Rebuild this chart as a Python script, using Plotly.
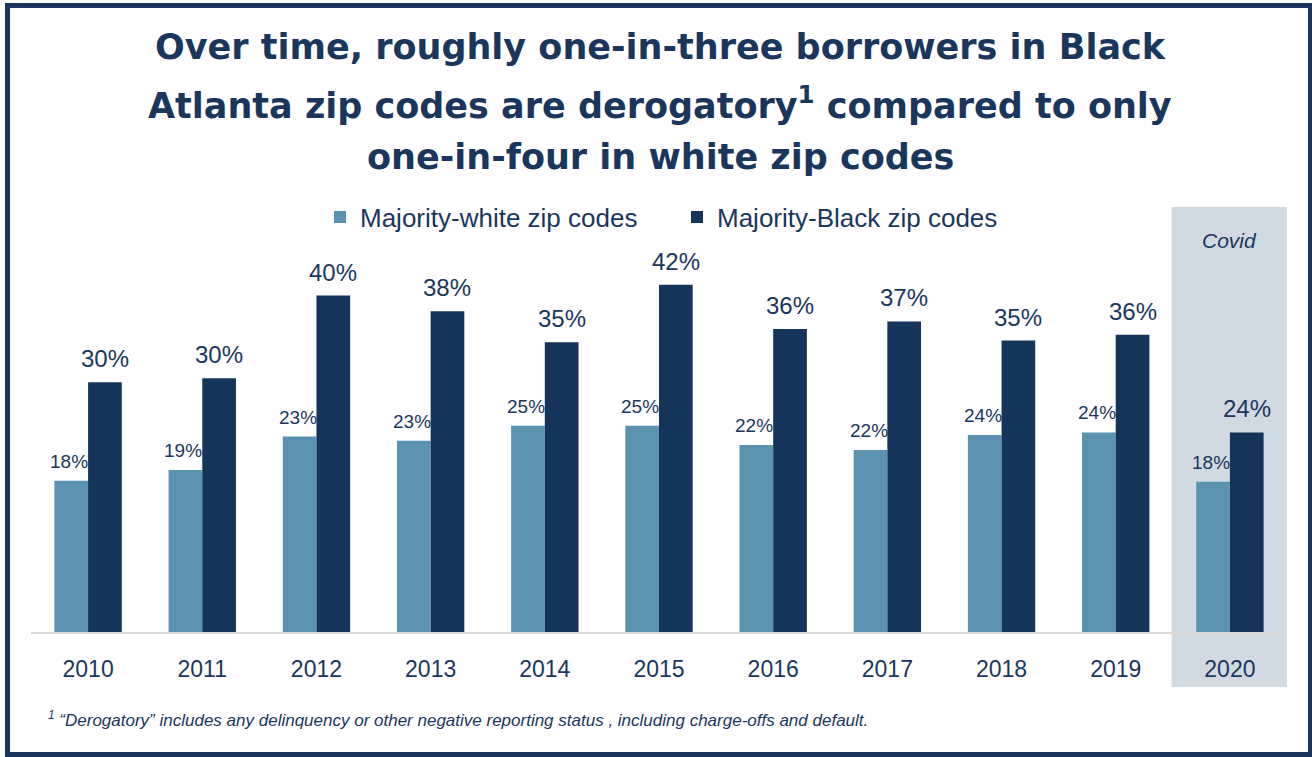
import plotly.graph_objects as go

years = ["2010", "2011", "2012", "2013", "2014", "2015", "2016", "2017", "2018", "2019", "2020"]
white_vals = [18.1, 19.4, 23.4, 22.9, 24.7, 24.7, 22.4, 21.8, 23.6, 23.9, 18.0]
black_vals = [29.9, 30.4, 40.3, 38.4, 34.7, 41.6, 36.3, 37.2, 34.9, 35.6, 23.9]
series_names = ["Majority-white zip codes", "Majority-Black zip codes"]
title_lines = [
    "Over time, roughly one-in-three borrowers in Black",
    "Atlanta zip codes are derogatory<sup>1</sup> compared to only",
    "one-in-four in white zip codes",
]
footnote = "<sup>1</sup> \u201cDerogatory\u201d includes any delinquency or other negative reporting status , including charge-offs and default."
covid_label = "Covid"

NAVY = "#1B365D"
LIGHT = "#5A92AF"
DARK = "#143459"
FONT = "Liberation Sans, Arial, sans-serif"

W, H = 1312, 757
ML, MR, MT, MB = 31, 25, 200, 125
PH = H - MT - MB
PW = W - ML - MR

def px(xp):
    return (xp - ML) / PW

def py(yp):
    return (H - MB - yp) / PH

fig = go.Figure()
fig.add_trace(go.Bar(x=years, y=white_vals, name=series_names[0], marker=dict(color=LIGHT, line=dict(width=0))))
fig.add_trace(go.Bar(x=years, y=black_vals, name=series_names[1], marker=dict(color=DARK, line=dict(width=0))))

bargap = 0.41
half = (1 - bargap) / 4 * (PW / len(years))

annotations = []
for i, v in enumerate(white_vals):
    annotations.append(dict(x=i, y=v, xref="x", yref="y", text=f"{v:.0f}%", showarrow=False,
                            xshift=-half - 2, yanchor="bottom", yshift=7,
                            font=dict(family=FONT, size=19, color=NAVY)))
for i, v in enumerate(black_vals):
    annotations.append(dict(x=i, y=v, xref="x", yref="y", text=f"{v:.0f}%", showarrow=False,
                            xshift=half, yanchor="bottom", yshift=8,
                            font=dict(family=FONT, size=24, color=NAVY)))

title_y = [47, 103, 157]
for line, ty in zip(title_lines, title_y):
    annotations.append(dict(x=px(660), y=py(ty), xref="paper", yref="paper", text=line, showarrow=False,
                            xanchor="center", yanchor="middle",
                            font=dict(family="DejaVu Sans", size=35, color=NAVY, weight="bold")))

annotations.append(dict(x=len(years) - 1, y=py(240), xref="x", yref="paper", text=covid_label, showarrow=False,
                        xanchor="center", yanchor="middle",
                        font=dict(family=FONT, size=21, color=NAVY, style="italic")))
annotations.append(dict(x=px(46), y=py(719), xref="paper", yref="paper", text=footnote, showarrow=False,
                        xanchor="left", yanchor="middle",
                        font=dict(family=FONT, size=17, color=NAVY, style="italic")))

shapes = [
    dict(type="rect", xref="x", yref="paper", x0=9.49, x1=10.55, y0=py(687), y1=py(207),
         fillcolor="#D1D9E1", line=dict(width=0), layer="below"),
    dict(type="rect", xref="paper", yref="paper", x0=px(7.5), x1=px(1310.5), y0=py(754.5), y1=py(5.5),
         line=dict(color=NAVY, width=5), fillcolor="rgba(0,0,0,0)"),
]

fig.update_layout(
    width=W, height=H,
    margin=dict(l=ML, r=MR, t=MT, b=MB),
    paper_bgcolor="white", plot_bgcolor="rgba(0,0,0,0)",
    barmode="group", bargap=bargap, bargroupgap=0,
    font=dict(family=FONT, color=NAVY),
    legend=dict(orientation="h", x=px(320), xanchor="left", y=py(217), yanchor="middle",
                font=dict(family=FONT, size=26, color=NAVY), itemwidth=30,
                entrywidth=312, entrywidthmode="pixels",
                bgcolor="rgba(0,0,0,0)"),
    xaxis=dict(type="category", showline=True, linecolor="#D9D9D9", linewidth=2, showgrid=False, ticks="",
               tickfont=dict(family=FONT, size=23, color=NAVY), ticklabelstandoff=15,
               range=[-0.5, 10.5], fixedrange=True),
    yaxis=dict(range=[0, PH / 8.35], showgrid=False, zeroline=False, showline=False,
               showticklabels=False, ticks=""),
    annotations=annotations,
    shapes=shapes,
    showlegend=True,
)

fig.write_html("out.html")
